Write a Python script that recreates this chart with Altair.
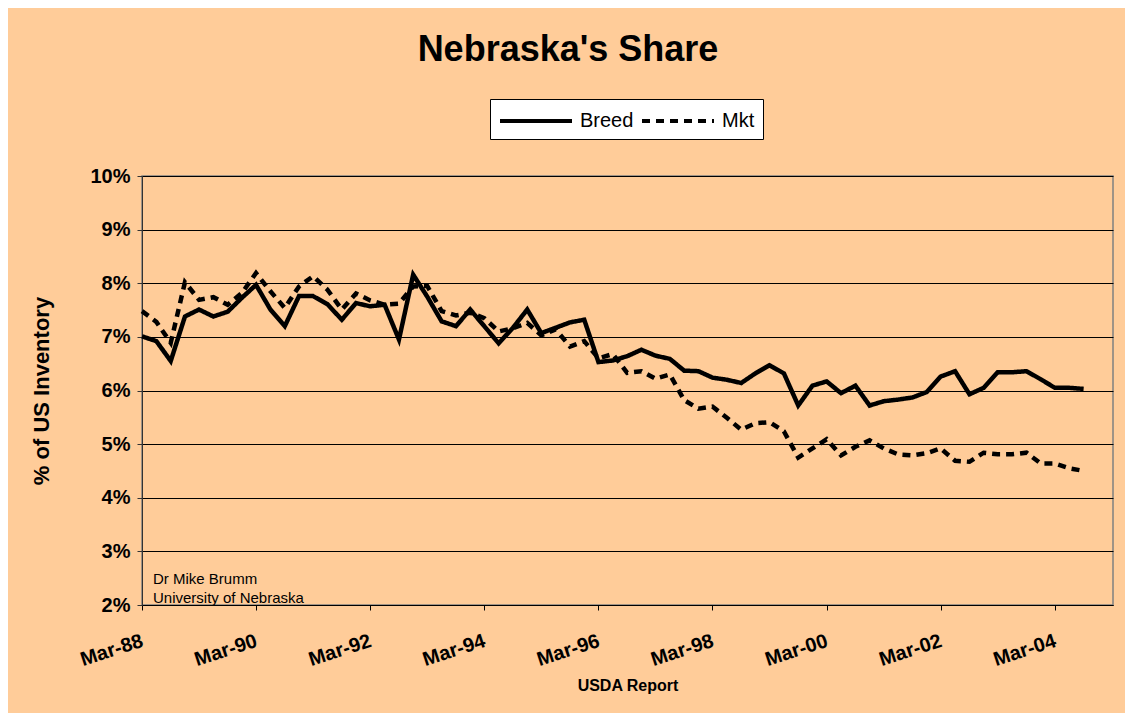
import altair as alt
import pandas as pd

quarters = [f"{1988 + i // 4}-{[3, 6, 9, 12][i % 4]:02d}-01" for i in range(67)]

breed = [7.01, 6.92, 6.55, 7.38, 7.51, 7.38, 7.47, 7.73, 7.97, 7.51,
         7.20, 7.76, 7.76, 7.61, 7.32, 7.63, 7.57, 7.60, 6.95, 8.16,
         7.75, 7.29, 7.20, 7.51, 7.20, 6.88, 7.17, 7.51, 7.07, 7.17,
         7.27, 7.32, 6.53, 6.56, 6.64, 6.76, 6.65, 6.59, 6.37, 6.36,
         6.24, 6.20, 6.14, 6.32, 6.47, 6.32, 5.72, 6.09, 6.17, 5.95,
         6.09, 5.72, 5.80, 5.83, 5.87, 5.97, 6.26, 6.36, 5.93, 6.05,
         6.34, 6.34, 6.36, 6.21, 6.05, 6.05, 6.03]

mkt = [7.48, 7.28, 6.89, 8.02, 7.69, 7.74, 7.60, 7.82, 8.19, 7.85,
       7.54, 7.94, 8.13, 7.88, 7.51, 7.81, 7.68, 7.60, 7.62, 7.94,
       7.95, 7.48, 7.40, 7.45, 7.35, 7.10, 7.16, 7.26, 7.03, 7.14,
       6.82, 6.92, 6.60, 6.68, 6.33, 6.36, 6.22, 6.30, 5.82, 5.66,
       5.70, 5.49, 5.27, 5.39, 5.41, 5.24, 4.75, 4.92, 5.09, 4.79,
       4.95, 5.07, 4.92, 4.81, 4.79, 4.83, 4.92, 4.69, 4.67, 4.84,
       4.81, 4.81, 4.84, 4.64, 4.64, 4.55, 4.50]

series_names = ["Breed", "Mkt"]
tick_years = [1988, 1990, 1992, 1994, 1996, 1998, 2000, 2002, 2004]
y_ticks = [0.02, 0.03, 0.04, 0.05, 0.06, 0.07, 0.08, 0.09, 0.10]

rows = []
for d, v in zip(quarters, breed):
    rows.append({"date": d, "share": v / 100, "series": "Breed"})
for d, v in zip(quarters, mkt):
    rows.append({"date": d, "share": v / 100, "series": "Mkt"})
df = pd.DataFrame(rows)

FONT = "Liberation Sans"

x_axis = alt.Axis(
    values=[alt.DateTime(year=y, month=3, date=1, utc=True) for y in tick_years],
    labelExpr="utcFormat(datum.value, '%b-%y')", labelAngle=342, labelAlign="right",
    labelBaseline="middle", labelPadding=30, labelFontSize=20, labelFontWeight="bold",
    labelColor="black", labelFont=FONT, tickSize=5, tickColor="black",
    domainColor="black", grid=False, title="USDA Report", titleFontSize=16,
    titleFontWeight="bold", titleFont=FONT, titleColor="black", titlePadding=8,
    labelOverlap=False,
)

y_axis = alt.Axis(
    values=y_ticks, format=".0%", labelFontSize=20, labelFontWeight="bold",
    labelColor="black", labelFont=FONT, labelPadding=7, tickSize=5, tickColor="#333333",
    domainColor="#333333", grid=True, gridColor="black", gridWidth=1,
    title="% of US Inventory", titleFontSize=22, titleFontWeight="bold", titleFont=FONT,
    titleColor="black", titlePadding=36,
)

lines = alt.Chart(df).mark_line(color="black", strokeWidth=4.5).encode(
    x=alt.X("date:T", axis=x_axis,
            scale=alt.Scale(type="utc", domain=[alt.DateTime(year=1988, month=3, date=1, utc=True),
                                                alt.DateTime(year=2005, month=3, date=8, utc=True)])),
    y=alt.Y("share:Q", axis=y_axis, scale=alt.Scale(domain=[0.02, 0.10], nice=False)),
    strokeDash=alt.StrokeDash(
        "series:N",
        scale=alt.Scale(domain=series_names, range=[[1, 0], [8, 6]]),
        legend=alt.Legend(
            title=None, orient="none", legendX=348, legendY=-77, direction="horizontal",
            symbolType="M-3,0L3,0", symbolSize=576, symbolStrokeWidth=4,
            symbolStrokeColor="black", symbolOffset=24, labelFontSize=20, labelFont=FONT,
            labelColor="black", labelOffset=30, columnPadding=0, fillColor="white",
            strokeColor="black", padding=8,
        ),
    ),
)

title = alt.Chart(pd.DataFrame({"t": ["Nebraska's Share"]})).mark_text(
    fontSize=36, fontWeight="bold", font=FONT, color="black", align="center",
    baseline="alphabetic",
).encode(text="t:N", x=alt.value(426), y=alt.value(-115))

note1 = alt.Chart(pd.DataFrame({"t": ["Dr Mike Brumm"]})).mark_text(
    fontSize=15, font=FONT, color="black", align="left", baseline="alphabetic",
).encode(text="t:N", x=alt.value(11), y=alt.value(408))

note2 = alt.Chart(pd.DataFrame({"t": ["University of Nebraska"]})).mark_text(
    fontSize=15, font=FONT, color="black", align="left", baseline="alphabetic",
).encode(text="t:N", x=alt.value(11), y=alt.value(427))

chart = alt.layer(lines, title, note1, note2).properties(
    width=971, height=429,
    autosize=alt.AutoSizeParams(type="none"),
    padding={"left": 134, "top": 168, "right": 12, "bottom": 108},
    background="#FFCC99",
).configure_view(stroke="#808080", strokeWidth=1.5)

chart.save("out.html", embed_options={"renderer": "svg", "actions": False})
